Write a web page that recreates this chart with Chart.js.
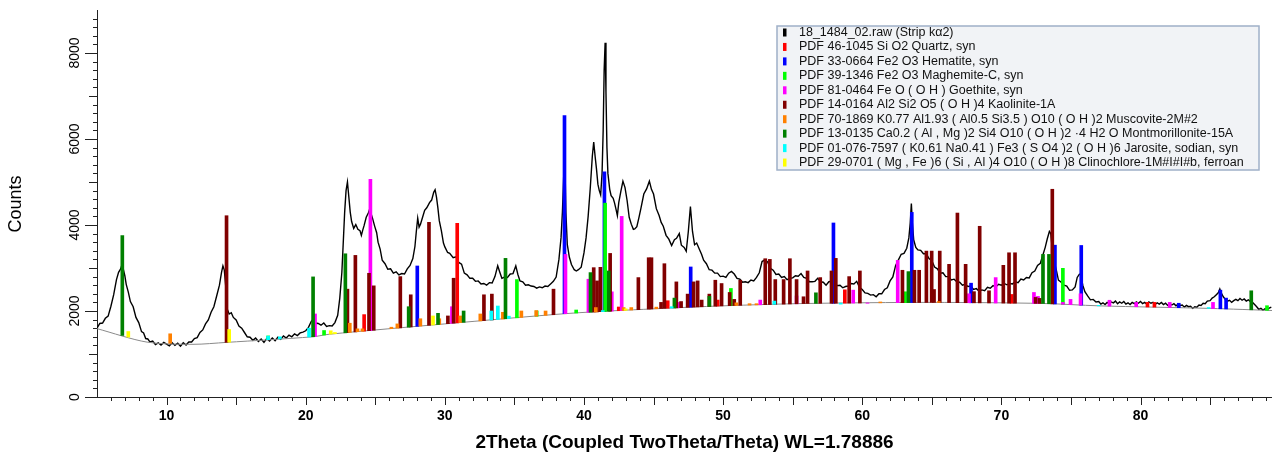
<!DOCTYPE html>
<html>
<head>
<meta charset="utf-8">
<script src="https://cdn.jsdelivr.net/npm/chart.js@4.4.1/dist/chart.umd.min.js"></script>
<style>
	html, body { margin:0; background:#fff; }
	#wrap { position:relative; width:1272px; height:453px; }
</style>
</head>
<body>
<div id="wrap"><canvas id="c" width="1272" height="453"></canvas></div>
<script>
// measured pattern: [2theta, counts]
const rawPattern = [[5.0,1600],[5.2,1710],[5.4,1720],[5.6,1830],[5.8,1880],[6.0,2110],[6.2,2380],[6.4,2730],[6.55,2900],[6.7,2980],[6.8,3080],[6.9,2960],[7.0,2820],[7.1,2620],[7.25,2440],[7.4,2220],[7.6,2100],[7.8,1850],[8.0,1730],[8.2,1520],[8.35,1490],[8.5,1360],[8.65,1350],[8.8,1280],[9.0,1300],[9.2,1220],[9.4,1260],[9.6,1210],[9.8,1270],[10.0,1230],[10.2,1190],[10.4,1260],[10.6,1200],[10.8,1250],[11.0,1180],[11.2,1260],[11.4,1210],[11.6,1280],[11.8,1280],[12.0,1360],[12.2,1380],[12.4,1500],[12.6,1560],[12.8,1700],[13.0,1790],[13.2,1970],[13.4,2100],[13.6,2350],[13.8,2600],[13.95,2900],[14.05,3050],[14.15,2950],[14.3,2400],[14.35,2050],[14.5,1930],[14.65,1960],[14.8,1850],[15.0,1790],[15.2,1650],[15.4,1600],[15.6,1500],[15.8,1400],[16.0,1390],[16.2,1320],[16.4,1370],[16.6,1290],[16.8,1350],[17.0,1270],[17.2,1360],[17.4,1300],[17.6,1370],[17.8,1310],[18.0,1390],[18.2,1340],[18.4,1420],[18.6,1370],[18.8,1440],[19.0,1400],[19.2,1470],[19.4,1430],[19.6,1490],[19.8,1510],[20.0,1540],[20.2,1620],[20.4,1760],[20.55,1810],[20.7,1720],[20.9,1710],[21.1,1670],[21.3,1720],[21.5,1640],[21.7,1660],[21.9,1650],[22.1,1730],[22.3,1900],[22.45,2300],[22.6,2900],[22.7,3600],[22.8,4300],[22.9,4800],[23.0,5000],[23.1,4650],[23.2,4300],[23.3,4080],[23.45,3920],[23.6,4010],[23.75,3900],[23.9,3870],[24.0,3760],[24.1,3880],[24.2,3990],[24.35,4180],[24.5,4280],[24.6,4370],[24.7,4260],[24.8,4160],[24.95,3980],[25.1,3820],[25.2,3600],[25.35,3440],[25.5,3180],[25.7,3100],[25.9,2970],[26.1,2980],[26.3,2880],[26.5,2910],[26.7,2840],[26.9,2870],[27.1,2860],[27.3,2980],[27.5,3060],[27.7,3220],[27.85,3500],[27.95,3850],[28.05,4160],[28.15,3950],[28.25,4020],[28.4,4180],[28.55,4340],[28.7,4400],[28.9,4520],[29.05,4580],[29.2,4760],[29.3,4820],[29.4,4650],[29.5,4400],[29.6,4100],[29.75,3870],[29.9,3580],[30.0,3490],[30.2,3360],[30.35,3340],[30.6,3240],[30.8,3260],[31.0,3130],[31.2,3090],[31.4,2880],[31.6,2840],[31.8,2760],[32.0,2760],[32.2,2690],[32.4,2700],[32.6,2630],[32.8,2640],[33.0,2600],[33.2,2660],[33.4,2650],[33.6,2800],[33.8,3050],[33.95,2900],[34.1,2760],[34.3,2790],[34.5,2780],[34.7,2860],[34.9,2870],[35.1,3050],[35.25,2850],[35.4,2700],[35.6,2680],[35.8,2600],[36.0,2610],[36.2,2580],[36.4,2570],[36.6,2530],[36.8,2560],[37.0,2540],[37.2,2580],[37.4,2570],[37.6,2630],[37.8,2690],[38.0,2790],[38.2,3200],[38.35,3700],[38.45,4300],[38.55,5200],[38.62,5600],[38.7,4300],[38.8,3550],[38.95,3250],[39.1,3080],[39.3,2960],[39.45,2930],[39.6,2960],[39.8,3020],[40.0,3350],[40.15,3700],[40.3,4200],[40.45,4850],[40.6,5600],[40.7,5930],[40.8,5600],[40.9,5300],[41.0,4950],[41.1,4800],[41.2,4700],[41.3,5200],[41.38,6200],[41.45,7600],[41.52,8240],[41.58,7100],[41.65,5800],[41.72,5200],[41.85,4830],[41.95,4680],[42.1,4620],[42.2,4510],[42.3,4370],[42.4,4220],[42.5,4520],[42.65,4780],[42.8,5020],[42.95,4870],[43.1,4570],[43.25,4180],[43.4,4020],[43.55,3900],[43.65,3910],[43.8,3960],[43.95,4170],[44.1,4400],[44.3,4720],[44.5,4840],[44.7,5020],[44.85,4830],[45.0,4720],[45.2,4380],[45.4,4220],[45.55,4060],[45.7,3970],[45.9,3760],[46.1,3670],[46.3,3520],[46.5,3660],[46.65,3690],[46.85,3800],[47.0,3530],[47.2,3480],[47.35,3390],[47.5,3850],[47.65,4430],[47.8,3850],[47.95,3540],[48.1,3580],[48.3,3430],[48.45,3320],[48.6,3180],[48.8,3100],[49.0,2960],[49.2,2950],[49.4,2880],[49.6,2880],[49.8,2800],[50.0,2810],[50.2,2780],[50.4,2880],[50.6,2920],[50.8,2860],[51.0,2760],[51.2,2740],[51.4,2670],[51.6,2680],[51.8,2660],[52.0,2720],[52.2,2700],[52.4,2780],[52.6,2890],[52.8,3150],[53.0,3190],[53.2,3140],[53.4,2990],[53.6,2950],[53.8,2850],[54.0,2860],[54.2,2780],[54.4,2800],[54.6,2730],[54.8,2760],[55.0,2770],[55.2,2820],[55.4,2810],[55.6,2870],[55.8,2780],[56.0,2760],[56.2,2680],[56.4,2680],[56.6,2690],[56.8,2760],[57.0,2680],[57.2,2670],[57.4,2600],[57.6,2680],[57.8,2690],[58.0,2650],[58.2,2590],[58.4,2600],[58.6,2540],[58.8,2570],[59.0,2580],[59.2,2640],[59.4,2630],[59.6,2690],[59.8,2550],[60.0,2500],[60.2,2420],[60.4,2410],[60.6,2370],[60.8,2380],[61.0,2330],[61.2,2400],[61.4,2400],[61.6,2500],[61.8,2540],[62.0,2700],[62.2,2790],[62.4,3060],[62.6,3190],[62.8,3320],[63.0,3340],[63.2,3460],[63.35,3700],[63.45,4050],[63.53,4500],[63.6,4050],[63.7,3650],[63.85,3480],[64.0,3420],[64.2,3410],[64.4,3330],[64.6,3330],[64.8,3220],[65.0,3170],[65.2,3020],[65.4,2980],[65.6,2880],[65.8,2890],[66.0,2800],[66.2,2800],[66.4,2720],[66.6,2740],[66.8,2680],[67.0,2670],[67.2,2600],[67.4,2620],[67.6,2570],[67.8,2580],[68.0,2500],[68.2,2520],[68.4,2460],[68.6,2490],[68.8,2470],[69.0,2550],[69.2,2530],[69.4,2590],[69.6,2560],[69.8,2620],[70.0,2600],[70.2,2640],[70.4,2610],[70.6,2640],[70.8,2630],[71.0,2680],[71.2,2660],[71.4,2740],[71.6,2720],[71.8,2780],[72.0,2770],[72.2,2890],[72.4,2930],[72.6,3060],[72.8,3110],[73.0,3320],[73.15,3480],[73.3,3680],[73.45,3850],[73.55,3800],[73.65,3470],[73.8,3150],[73.95,2950],[74.1,2720],[74.3,2670],[74.5,2600],[74.7,2580],[74.9,2480],[75.1,2490],[75.3,2560],[75.45,2780],[75.6,2850],[75.7,2860],[75.85,2600],[76.0,2450],[76.2,2350],[76.4,2260],[76.6,2270],[76.8,2210],[77.0,2220],[77.15,2160],[77.3,2190],[77.45,2150],[77.6,2200],[77.75,2170],[77.9,2210],[78.05,2190],[78.2,2230],[78.35,2170],[78.5,2210],[78.65,2180],[78.8,2220],[78.95,2160],[79.1,2190],[79.25,2150],[79.4,2200],[79.55,2170],[79.7,2210],[79.85,2180],[80.0,2220],[80.15,2170],[80.3,2200],[80.45,2160],[80.6,2210],[80.75,2180],[80.9,2200],[81.05,2150],[81.2,2190],[81.35,2160],[81.5,2200],[81.65,2150],[81.8,2180],[81.95,2130],[82.1,2170],[82.25,2140],[82.4,2170],[82.55,2120],[82.7,2160],[82.85,2130],[83.0,2140],[83.15,2090],[83.3,2130],[83.45,2100],[83.6,2110],[83.75,2060],[83.9,2100],[84.05,2090],[84.2,2140],[84.35,2130],[84.5,2180],[84.65,2170],[84.8,2230],[85.0,2240],[85.15,2300],[85.3,2330],[85.45,2380],[85.6,2430],[85.7,2510],[85.8,2420],[85.95,2330],[86.1,2270],[86.25,2230],[86.4,2250],[86.55,2200],[86.7,2240],[86.85,2270],[87.0,2240],[87.15,2290],[87.3,2250],[87.45,2280],[87.6,2230],[87.75,2260],[87.9,2220],[88.05,2200],[88.2,2150],[88.35,2100],[88.5,2040],[88.65,2060],[88.8,2020],[88.95,2050],[89.1,2030],[89.25,2070],[89.4,2090]]

// fitted background
const bgTheta  = [5, 8.6, 11.9, 14.3, 20.5, 21.7, 30, 39, 45, 50, 56, 65, 73, 77, 85, 89.6]
const bgCounts = [1590, 1276, 1225, 1270, 1400, 1460, 1700, 1946, 2050, 2120, 2175, 2200, 2175, 2120, 2060, 2010]

// reference sticks: [2theta, top counts]
const quartzPk = [[24.2,1916],[30.89,4039],[42.5,2093],[46.02,2239],[49.61,2254],[58.75,2493],[70.74,2385],[80.5,2200],[81.0,2200]]
const hematitePk = [[28.02,3047],[38.6,6547],[41.47,5239],[47.67,3024],[57.93,4047],[63.56,4293],[67.82,2647],[73.85,3531],[75.74,3524],[82.75,2180],[85.74,2485],[86.15,2300]]
const maghemitePk = [[17.3,1420],[21.32,1546],[35.18,2731],[36.6,2000],[39.44,2023],[41.52,4508],[50.56,2524],[63.08,2447],[74.42,2993],[89.09,2123]]
const goethitePk = [[20.67,1931],[24.65,5062],[30.51,2100],[38.67,3316],[40.32,2739],[42.0,2446],[42.71,4200],[46.81,2200],[52.67,2254],[55.28,2350],[59.35,2485],[60.38,2180],[62.55,3177],[67.67,2400],[69.59,2777],[72.34,2431],[72.63,2339],[74.42,2200],[74.97,2270],[75.69,2400],[77.77,2250],[79.69,2200],[82.1,2200],[85.21,2200]]
const kaolinitePk = [[14.31,4216],[23.0,2508],[23.57,3293],[24.55,2877],[24.89,2585],[26.8,2800],[27.55,2377],[28.86,4062],[30.22,1885],[30.63,2762],[32.81,2377],[33.38,2393],[37.81,2508],[40.7,3008],[40.94,2700],[41.18,3016],[41.88,3339],[43.91,2777],[44.65,3239],[44.85,3239],[45.54,2200],[45.78,3100],[46.64,2677],[46.98,2220],[47.45,2393],[47.88,2677],[48.17,2700],[48.46,2254],[49.01,2393],[49.44,2716],[49.89,2639],[50.47,2431],[50.8,2270],[51.23,2716],[53.03,3216],[53.36,3200],[53.75,2731],[54.35,2731],[54.8,3216],[55.28,2731],[55.78,2331],[56.07,2931],[56.98,2777],[57.79,2931],[58.1,3224],[59.06,2800],[59.83,2931],[62.89,2947],[63.75,2947],[64.09,2947],[64.61,3393],[64.99,3393],[65.16,2500],[65.57,3393],[66.24,3085],[66.84,4278],[67.43,3085],[68.03,2450],[68.44,3970],[69.11,2470],[70.14,3062],[70.55,3354],[70.98,3354],[72.46,2316],[72.75,2293],[73.66,4831]]
const muscovitePk = [[10.26,1470],[23.17,1716],[23.72,1585],[24.08,1585],[26.16,1623],[26.59,1700],[28.24,1820],[29.6,1820],[31.11,1885],[32.55,1931],[34.17,1970],[35.5,2000],[36.57,2010],[37.24,2000],[40.85,2080],[42.85,2080],[43.4,2080],[45.2,2090],[50.95,2190],[51.9,2170],[52.4,2170],[61.3,2210],[65.5,2220]]
const montmorillonitePk = [[6.82,3754],[20.53,2793],[22.85,3331],[27.4,2100],[29.51,1946],[31.35,2000],[34.36,3224],[40.47,2893],[41.78,2931],[46.5,2300],[49.01,2340],[56.67,2423],[63.32,2916],[72.99,3316],[73.42,3316],[87.96,2470]]
const jarositePk = [[17.3,1415],[18.14,1400],[20.24,1600],[33.34,2000],[33.81,2116],[34.6,1880],[41.35,2010],[46.3,2100],[53.68,2230],[58.45,2160],[77.0,2130],[84.9,2080]]
const clinochlorePk = [[7.25,1523],[14.5,1570],[21.8,1540],[22.1,1500],[29.15,1885],[43.0,2050]]

const scanLabel = '18_1484_02.raw (Strip k\u03b12)'
const phaseLabels = [
	'PDF 46-1045 Si O2 Quartz, syn',
	'PDF 33-0664 Fe2 O3 Hematite, syn',
	'PDF 39-1346 Fe2 O3 Maghemite-C, syn',
	'PDF 81-0464 Fe O ( O H ) Goethite, syn',
	'PDF 14-0164 Al2 Si2 O5 ( O H )4 Kaolinite-1A',
	'PDF 70-1869 K0.77 Al1.93 ( Al0.5 Si3.5 ) O10 ( O H )2 Muscovite-2M#2',
	'PDF 13-0135 Ca0.2 ( Al , Mg )2 Si4 O10 ( O H )2 \u00b74 H2 O Montmorillonite-15A',
	'PDF 01-076-7597 ( K0.61 Na0.41 ) Fe3 ( S O4 )2 ( O H )6 Jarosite, sodian, syn',
	'PDF 29-0701 ( Mg , Fe )6 ( Si , Al )4 O10 ( O H )8 Clinochlore-1M#I#I#b, ferroan',
]
const phasePeaks = [quartzPk, hematitePk, maghemitePk, goethitePk, kaolinitePk, muscovitePk, montmorillonitePk, jarositePk, clinochlorePk]
const phaseColors = ['#ff0000', '#0000ff', '#00ff00', '#ff00ff', '#800000', '#ff8000', '#008000', '#00ffff', '#ffff00']

const xTickLabels = [10, 20, 30, 40, 50, 60, 70, 80]
const yTickLabels = [0, 2000, 4000, 6000, 8000]

// sticks sit on the background line
const bgAt = t => {
	for (let i = 1; i < bgTheta.length; i++) {
		if (t <= bgTheta[i]) {
			const f = (t - bgTheta[i-1]) / (bgTheta[i] - bgTheta[i-1])
			return bgCounts[i-1] + f * (bgCounts[i] - bgCounts[i-1])
		}
	}
	return bgCounts[bgCounts.length-1]
}

const datasets = [
	{ type:'line', label:scanLabel, data:rawPattern.map(([t, c]) => ({x:t, y:c})), borderColor:'#000', borderWidth:1.4, pointRadius:0, tension:0, order:100 },
	{ type:'line', label:'bg', data:bgTheta.map((t,i) => ({x:t, y:bgCounts[i]})), borderColor:'#8a8a8a', borderWidth:1, pointRadius:0, tension:0.3, order:99 },
]
phasePeaks.forEach((pk, i) => {
	datasets.push({
		type:'bar', label:phaseLabels[i],
		data: pk.map(([t, top]) => ({x:t, y:[bgAt(t), top]})),
		backgroundColor: phaseColors[i], borderWidth:0,
		barThickness:3, grouped:false, order:20 - i,
	})
})

const FONT = '"Liberation Sans", Arial, sans-serif'

const decor = {
	id:'decor',
	afterDraw(chart) {
		const ctx = chart.ctx, xs = chart.scales.x, ys = chart.scales.y
		const a = chart.chartArea
		ctx.save()
		ctx.strokeStyle = '#222'
		ctx.lineWidth = 1
		ctx.beginPath()
		for (let t = 6; t <= 89; t++) {
			const px = Math.round(xs.getPixelForValue(t)) + 0.5
			ctx.moveTo(px, a.bottom)
			ctx.lineTo(px, a.bottom + (t % 5 == 0 ? 8 : 4))
		}
		for (let v = 0; v <= 8800; v += 200) {
			const py = Math.round(ys.getPixelForValue(v)) + 0.5
			ctx.moveTo(a.left, py)
			ctx.lineTo(a.left - (v % 2000 == 0 ? 12 : v % 1000 == 0 ? 8 : 4), py)
		}
		ctx.stroke()

		ctx.fillStyle = '#000'
		ctx.textAlign = 'center'
		ctx.textBaseline = 'middle'
		ctx.font = 'bold 14px ' + FONT
		xTickLabels.forEach(t => ctx.fillText(String(t), xs.getPixelForValue(t), 416))
		ctx.font = '14px ' + FONT
		yTickLabels.forEach(v => {
			ctx.save()
			ctx.translate(75, ys.getPixelForValue(v))
			ctx.rotate(-Math.PI / 2)
			ctx.fillText(String(v), 0, 0)
			ctx.restore()
		})
		ctx.font = '18px ' + FONT
		ctx.save()
		ctx.translate(16, 204)
		ctx.rotate(-Math.PI / 2)
		ctx.fillText('Counts', 0, 0)
		ctx.restore()
		ctx.font = 'bold 19px ' + FONT
		ctx.fillText('2Theta (Coupled TwoTheta/Theta) WL=1.78886', (a.left + a.right) / 2, 443)

		// legend box
		ctx.fillStyle = '#f1f3f6'
		ctx.fillRect(777, 26, 482, 144)
		ctx.strokeStyle = '#9fb0c8'
		ctx.lineWidth = 1.5
		ctx.strokeRect(777, 26, 482, 144)
		const names = [scanLabel, ...phaseLabels], cols = ['#000', ...phaseColors]
		ctx.textAlign = 'left'
		ctx.font = '12.5px ' + FONT
		names.forEach((n, i) => {
			const cy = 32.5 + i * 14.45
			ctx.fillStyle = cols[i]
			ctx.fillRect(783, cy - 4, 3.5, 8)
			ctx.fillStyle = '#111'
			ctx.fillText(n, 799, cy)
		})
		ctx.restore()
	}
}

new Chart(document.getElementById('c'), {
	type:'bar',
	data:{ datasets },
	options:{
		responsive:false,
		animation:false,
		devicePixelRatio:1,
		layout:{ padding:{ left:0, right:0, top:10, bottom:0 } },
		plugins:{ legend:{ display:false }, tooltip:{ enabled:false } },
		scales:{
			x:{
				type:'linear', min:5, max:89.45, offset:false,
				grid:{ display:false },
				ticks:{ display:false },
				border:{ display:true, color:'#222', width:1 },
				afterFit: s => { s.height = 56 },
			},
			y:{
				type:'linear', min:0, max:9000,
				grid:{ display:false },
				ticks:{ display:false },
				border:{ display:true, color:'#222', width:1 },
				afterFit: s => { s.width = 97 },
			},
		},
	},
	plugins:[decor],
})
</script>
</body>
</html>
